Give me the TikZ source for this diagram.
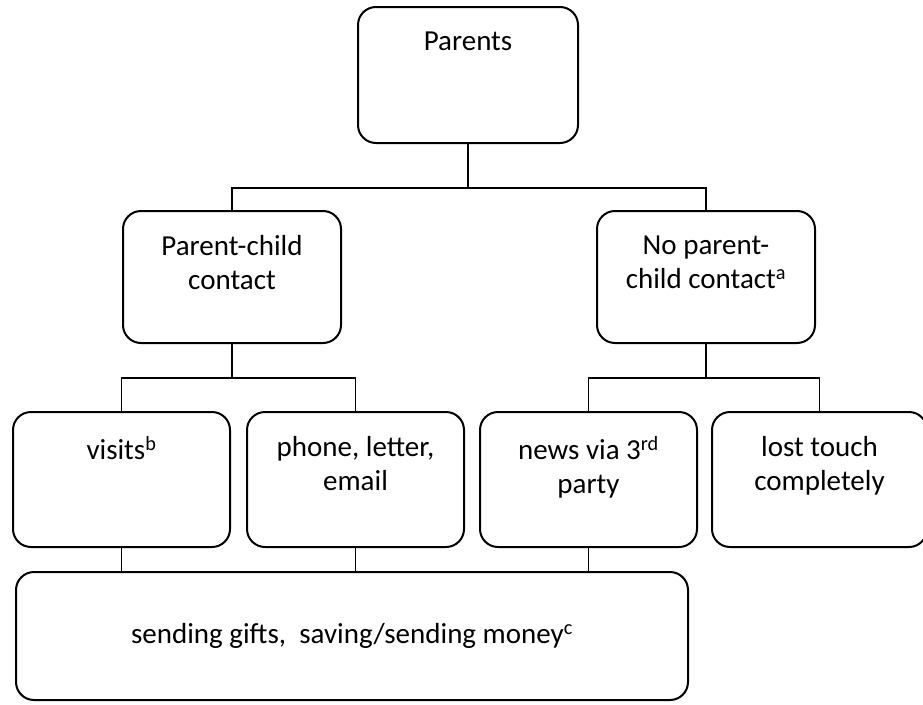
\documentclass[tikz,border=0pt]{standalone}
\usepackage{fontspec}
\setmainfont{Carlito}
\usetikzlibrary{positioning}

\tikzset{
	box/.style={draw, line width=2pt, rounded corners=18pt, inner sep=0pt, minimum width=217pt, minimum height=135pt},
	txt/.style={label={[align=center, anchor=north, yshift=-22pt, font=\fontsize{29}{34}\selectfont]north:{#1}}},
	link/.style={line width=1.3pt}
}

\begin{document}
\begin{tikzpicture}[x=1pt, y=-1pt]
	\useasboundingbox (0,0) rectangle (923,704);

	% top level
	\node[box, minimum width=220pt, minimum height=136pt, txt=Parents] (parents) at (468,75) {};

	% second level
	\node[box, minimum width=218pt, minimum height=132pt, txt={Parent-child\\contact}] (contact) at (232,277) {};
	\node[box, minimum width=218pt, minimum height=132pt, txt={No parent-\\child contact\textsuperscript{a}}] (nocontact) at (706,277) {};

	% third level
	\node[box, txt={visits\textsuperscript{b}}] (visits) at (121.5,479.5) {};
	\node[box, right=15pt of visits, txt={phone, letter,\\email}] (phone) {};
	\node[box, right=14pt of phone, txt={news via 3\textsuperscript{rd}\\party}] (news) {};
	\node[box, right=13pt of news, minimum width=215pt, txt={lost touch\\completely}] (lost) {};

	% bottom
	\node[box, minimum width=672pt, minimum height=128pt, font=\fontsize{29}{34}\selectfont] (gifts) at (352,636) {sending gifts,\ \ saving/sending money\textsuperscript{c}};

	\coordinate (fork1) at (468,188);
	\coordinate (fork2) at (232,378);
	\coordinate (fork3) at (706,378);

	\draw[link] (parents.south) -- (fork1);
	\draw[link] (contact.north) |- (fork1) -| (nocontact.north);

	\draw[link] (contact.south) -- (fork2);
	\draw[link] (visits.north) |- (fork2) -| (phone.north);
	\draw[link] (nocontact.south) -- (fork3);
	\draw[link] (news.north) |- (fork3) -| (lost.north);

	\draw[link] (visits.south) -- (visits.south |- gifts.north);
	\draw[link] (phone.south) -- (phone.south |- gifts.north);
	\draw[link] (news.south) -- (news.south |- gifts.north);

\end{tikzpicture}
\end{document}
